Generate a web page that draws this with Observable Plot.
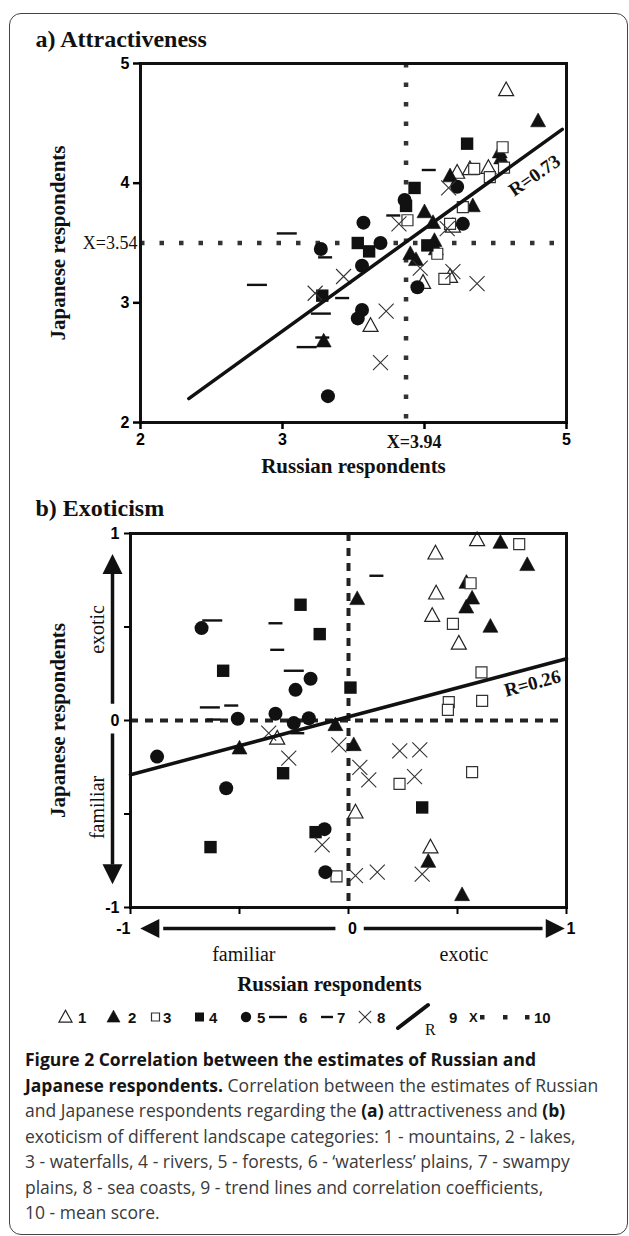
<!DOCTYPE html>
<html><head><meta charset="utf-8">
<script src="https://cdn.jsdelivr.net/npm/d3@7"></script>
<script src="https://cdn.jsdelivr.net/npm/@observablehq/plot@0.6"></script>
<style>
html,body{margin:0;padding:0;background:#fff;}
#page{position:relative;width:629px;height:1236px;overflow:hidden;background:#fff;}
#border{position:absolute;left:9px;top:13px;width:619px;height:1222px;border:1.6px solid #444;border-radius:12px;box-sizing:border-box;}
#panelA{position:absolute;left:0;top:0;}
#panelB{position:absolute;left:0;top:480px;}
#legend{position:absolute;left:0;top:1000px;}
#caption{position:absolute;left:25px;top:1047px;font-family:'Open Sans',sans-serif;font-size:17.5px;line-height:25.5px;color:#3a3a3a;white-space:nowrap;}
#caption b{color:#151515;font-weight:700;}
</style></head><body><div id="page">
<div id="border"></div>
<div id="panelA"></div>
<div id="panelB"></div>
<div id="legend"></div>
<div id="caption">
<div><b>Figure 2 Correlation between the estimates of Russian and</b></div>
<div><b>Japanese respondents.</b> Correlation between the estimates of Russian</div>
<div>and Japanese respondents regarding the <b>(a)</b> attractiveness and <b>(b)</b></div>
<div>exoticism of different landscape categories: 1 - mountains, 2 - lakes,</div>
<div>3 - waterfalls, 4 - rivers, 5 - forests, 6 - ‘waterless’ plains, 7 - swampy</div>
<div>plains, 8 - sea coasts, 9 - trend lines and correlation coefficients,</div>
<div>10 - mean score.</div>
</div>
</div>
<script>
// ---------- DATA ----------
const categories = ["mountains", "lakes", "waterfalls", "rivers", "forests", "waterless", "swampy", "coasts"];
const categoryNumbers = ["1", "2", "3", "4", "5", "6", "7", "8"];

// (a) Attractiveness: [Russian, Japanese]
const attrMountains = [[4.575,4.78],[4.23,4.09],[4.32,4.12],[4.45,4.13],[3.99,3.17],[4.18,3.22],[3.62,2.81],[4.20,3.64]];
const attrLakes = [[4.80,4.52],[4.53,4.26],[4.54,4.21],[4.18,4.06],[4.00,3.76],[4.34,3.81],[4.06,3.67],[4.07,3.52],[4.08,3.45],[3.90,3.41],[3.94,3.36],[3.29,2.68]];
const attrWaterfalls = [[4.55,4.30],[4.35,4.12],[4.56,4.13],[4.46,4.05],[4.27,3.80],[3.88,3.69],[4.18,3.66],[4.14,3.20],[4.09,3.41]];
const attrRivers = [[4.30,4.33],[3.93,3.96],[3.87,3.81],[3.53,3.50],[3.61,3.43],[4.02,3.48],[3.28,3.06]];
const attrForests = [[4.23,3.97],[3.86,3.86],[3.57,3.67],[4.27,3.66],[3.27,3.45],[3.69,3.50],[3.56,3.31],[3.95,3.13],[3.56,2.94],[3.53,2.87],[3.32,2.22]];
const attrWaterless = [[3.03,3.58],[2.82,3.15],[3.27,2.91],[3.17,2.63]];
const attrSwampy = [[3.30,3.38],[3.42,3.04],[3.28,2.71],[3.78,3.73],[4.03,4.11]];
const attrCoasts = [[3.43,3.22],[3.23,3.08],[3.82,3.66],[4.16,3.62],[4.17,3.96],[3.97,3.29],[4.20,3.26],[4.37,3.16],[3.73,2.93],[3.69,2.50]];
const attrTrendX = [2.34, 4.97];
const attrTrendY = [2.20, 4.45];
const attrMeanX = 3.87, attrMeanXLabel = "X=3.94";
const attrMeanY = 3.50, attrMeanYLabel = "X=3.54";
const attrR = {x: 4.775, y: 4.064, label: "R=0.73"};
const attrTicks = [2, 3, 4, 5];
const attrXTickLabels = ["2", "3", "", "5"];
const attrYTickLabels = ["2", "3", "4", "5"];

// (b) Exoticism: [Russian, Japanese]
const exoMountains = [[0.59,0.966],[0.399,0.895],[0.402,0.681],[0.384,0.561],[0.506,0.413],[-0.327,-0.095],[0.032,-0.49],[0.376,-0.677]];
const exoLakes = [[0.697,0.952],[0.82,0.833],[0.541,0.738],[0.567,0.654],[0.54,0.606],[0.651,0.503],[0.04,0.651],[-0.06,-0.023],[0.024,-0.13],[-0.5,-0.148],[0.366,-0.754],[0.521,-0.932]];
const exoWaterfalls = [[0.783,0.943],[0.56,0.734],[0.479,0.517],[0.61,0.257],[0.46,0.098],[0.456,0.057],[0.613,0.105],[0.234,-0.339],[0.567,-0.276],[-0.055,-0.834]];
const exoRivers = [[-0.22,0.619],[-0.132,0.462],[-0.575,0.266],[0.009,0.176],[-0.3,-0.282],[-0.151,-0.597],[-0.633,-0.677],[0.338,-0.465]];
const exoForests = [[-0.674,0.494],[-0.174,0.223],[-0.243,0.164],[-0.508,0.009],[-0.335,0.036],[-0.182,0.012],[-0.251,-0.014],[-0.878,-0.193],[-0.561,-0.362],[-0.11,-0.581],[-0.106,-0.811]];
const exoWaterless = [[-0.625,0.535],[-0.251,0.266],[-0.636,0.07]];
const exoSwampy = [[-0.335,0.52],[-0.327,0.378],[0.128,0.774],[-0.538,0.08],[-0.619,0.005],[-0.235,-0.068]];
const exoCoasts = [[-0.044,-0.13],[0.235,-0.162],[0.327,-0.157],[0.052,-0.251],[0.093,-0.317],[0.303,-0.3],[0.338,-0.822],[0.132,-0.811],[0.032,-0.829],[-0.366,-0.068],[-0.274,-0.201],[-0.121,-0.665]];
const exoTrendX = [-1, 1];
const exoTrendY = [-0.29, 0.33];
const exoMeanX = 0, exoMeanY = 0;
const exoR = {x: 0.844, y: 0.198, label: "R=0.26"};
const exoTicks = [-1, -0.5, 0, 0.5, 1];
const exoYTickLabels = ["-1", "", "0", "", "1"];
const exoAxisLabels = [{x: -1, t: "-1", a: "end"}, {x: 0, t: "0", a: "middle"}, {x: 1, t: "1", a: "start"}];
const exoSideWords = [{x: -0.48, t: "familiar"}, {x: 0.53, t: "exotic"}];
const exoSideWordsY = [{y: 0.487, t: "exotic"}, {y: -0.465, t: "familiar"}];
// arrows along the axes (data units): shaft start, head base, tip, direction
const exoVArrows = [{start: 0.09, base: 0.79, tip: 0.89, dir: 0}, {start: -0.07, base: -0.77, tip: -0.875, dir: 180}];
const exoHArrows = [{start: -0.06, base: -0.85, tip: -0.955, dir: 270}, {start: 0.07, base: 0.89, tip: 0.992, dir: 90}];

// ---------- STYLE ----------
const SERIF = "'Liberation Serif','Times New Roman',serif";
const SANS = "'Liberation Sans',Arial,sans-serif";
const rad = s => Math.sqrt(s / Math.PI);
const symTri = {draw(c, s) { const r = rad(s); c.moveTo(0, -1.05 * r); c.lineTo(r, 0.78 * r); c.lineTo(-r, 0.78 * r); c.closePath(); }};
const symSq = {draw(c, s) { const r = rad(s); c.rect(-r, -r, 2 * r, 2 * r); }};
const symCirc = {draw(c, s) { const r = rad(s); c.moveTo(r, 0); c.arc(0, 0, r, 0, 2 * Math.PI); }};
const symX = {draw(c, s) { const r = rad(s); c.moveTo(-r, -r); c.lineTo(r, r); c.moveTo(r, -r); c.lineTo(-r, r); }};
const symDash = {draw(c, s) { const r = rad(s); c.moveTo(-r, 0); c.lineTo(r, 0); }};
const symHead = {draw(c, s) { const r = rad(s); c.moveTo(0, 0); c.lineTo(r, 2 * r); c.lineTo(-r, 2 * r); c.closePath(); }};

const styles = {
  mountains: {symbol: symTri, r: 7.5, fill: "white", stroke: "#222", strokeWidth: 1.2},
  lakes: {symbol: symTri, r: 7.5, fill: "#111", stroke: "#111", strokeWidth: 0.6},
  waterfalls: {symbol: symSq, r: 5.5, fill: "white", stroke: "#333", strokeWidth: 1.2},
  rivers: {symbol: symSq, r: 6.2, fill: "#111", stroke: "none"},
  forests: {symbol: symCirc, r: 7, fill: "#111", stroke: "none"},
  waterless: {symbol: symDash, r: 10, fill: "none", stroke: "#111", strokeWidth: 2.4},
  swampy: {symbol: symDash, r: 7, fill: "none", stroke: "#111", strokeWidth: 2.4},
  coasts: {symbol: symX, r: 7.5, fill: "none", stroke: "#333", strokeWidth: 1.1}
};

function dotsFor(series) {
  return categories.map((k, i) => Plot.dot(series[i], {x: d => d[0], y: d => d[1], ...styles[k]}));
}
const serifText = (extra) => ({fontFamily: SERIF, fontWeight: "bold", fill: "#111", ...extra});

// ---------- PANEL A ----------
const attrSeries = [attrMountains, attrLakes, attrWaterfalls, attrRivers, attrForests, attrWaterless, attrSwampy, attrCoasts];
const plotA = Plot.plot({
  width: 629, height: 480,
  marginLeft: 140, marginRight: 63, marginTop: 63, marginBottom: 58,
  x: {domain: [2, 5]}, y: {domain: [2, 5]},
  style: {fontFamily: SANS, background: "transparent", overflow: "visible"},
  marks: [
    Plot.ruleX([attrMeanX], {x: d => d, stroke: "#333", strokeWidth: 4.5, strokeDasharray: "4.5,15"}),
    Plot.ruleY([attrMeanY], {y: d => d, stroke: "#333", strokeWidth: 4.5, strokeDasharray: "4.5,15"}),
    ...dotsFor(attrSeries),
    Plot.line(attrTrendX.map((x, i) => [x, attrTrendY[i]]), {x: d => d[0], y: d => d[1], stroke: "#111", strokeWidth: 3.5}),
    Plot.frame({stroke: "#111", strokeWidth: 3}),
    Plot.axisY({ticks: attrTicks, tickSize: 7, tickPadding: 4, tickFormat: d => attrYTickLabels[attrTicks.indexOf(d)], fontSize: 16, fontWeight: "bold", strokeWidth: 2.5, label: null}),
    Plot.axisX({ticks: attrTicks, tickSize: 7, tickPadding: 4, tickFormat: d => attrXTickLabels[attrTicks.indexOf(d)], fontSize: 16, fontWeight: "bold", strokeWidth: 2.5, label: null}),
    Plot.text([attrMeanY], {y: d => d, text: () => attrMeanYLabel, frameAnchor: "left", textAnchor: "end", lineAnchor: "middle", dx: -3, ...serifText({fontWeight: "normal", fontSize: 18})}),
    Plot.text([attrMeanX], {x: d => d, text: () => attrMeanXLabel, frameAnchor: "bottom", textAnchor: "middle", lineAnchor: "middle", dx: 8, dy: 20, ...serifText({fontSize: 18})}),
    Plot.text([attrR], {x: "x", y: "y", text: "label", rotate: -35, ...serifText({fontSize: 19})}),
    Plot.text(["a) Attractiveness"], {frameAnchor: "top-left", textAnchor: "start", lineAnchor: "middle", dx: -105, dy: -24, ...serifText({fontSize: 24})}),
    Plot.text(["Japanese respondents"], {frameAnchor: "left", textAnchor: "middle", lineAnchor: "middle", rotate: -90, dx: -82, ...serifText({fontSize: 21})}),
    Plot.text(["Russian respondents"], {frameAnchor: "bottom", textAnchor: "middle", lineAnchor: "middle", dy: 44, ...serifText({fontSize: 21})})
  ]
});
document.getElementById("panelA").appendChild(plotA);

// ---------- PANEL B ----------
const exoSeries = [exoMountains, exoLakes, exoWaterfalls, exoRivers, exoForests, exoWaterless, exoSwampy, exoCoasts];
const plotB = Plot.plot({
  width: 629, height: 520,
  marginLeft: 130, marginRight: 63, marginTop: 53, marginBottom: 93,
  x: {domain: [-1, 1]}, y: {domain: [-1, 1]},
  style: {fontFamily: SANS, background: "transparent", overflow: "visible"},
  marks: [
    Plot.ruleX([exoMeanX], {x: d => d, stroke: "#222", strokeWidth: 4, strokeDasharray: "8,7"}),
    Plot.ruleY([exoMeanY], {y: d => d, stroke: "#222", strokeWidth: 4, strokeDasharray: "8,7"}),
    ...dotsFor(exoSeries),
    Plot.line(exoTrendX.map((x, i) => [x, exoTrendY[i]]), {x: d => d[0], y: d => d[1], stroke: "#111", strokeWidth: 3.5}),
    Plot.frame({stroke: "#111", strokeWidth: 3}),
    Plot.axisY({ticks: exoTicks, tickSize: 6, tickPadding: 5, tickFormat: d => exoYTickLabels[exoTicks.indexOf(d)], fontSize: 16, fontWeight: "bold", strokeWidth: 2, label: null}),
    Plot.axisX({ticks: exoTicks, tickSize: 7, tickFormat: () => "", strokeWidth: 2, label: null}),
    Plot.text([exoR], {x: "x", y: "y", text: "label", rotate: -15, ...serifText({fontSize: 19})}),
    // vertical arrows (left of axis)
    Plot.link(exoVArrows, {x1: () => -1, x2: () => -1, y1: "start", y2: "base", dx: -18, stroke: "#111", strokeWidth: 3.5}),
    Plot.dot(exoVArrows, {x: () => -1, y: "tip", dx: -18, symbol: symHead, r: 10, rotate: "dir", fill: "#111", stroke: "none"}),
    Plot.text(exoSideWordsY, {x: () => -1, y: "y", text: "t", dx: -33, rotate: -90, textAnchor: "middle", ...serifText({fontWeight: "normal", fontSize: 20})}),
    // horizontal arrows (below axis)
    Plot.link(exoHArrows, {x1: "start", x2: "base", y1: () => -1, y2: () => -1, dy: 21, stroke: "#111", strokeWidth: 3.5}),
    Plot.dot(exoHArrows, {x: "tip", y: () => -1, dy: 21, symbol: symHead, r: 9.5, rotate: "dir", fill: "#111", stroke: "none"}),
    Plot.text(exoAxisLabels.filter(d => d.a === "end"), {x: "x", y: () => -1, text: "t", dy: 21, textAnchor: "end", fontSize: 16, fontWeight: "bold"}),
    Plot.text(exoAxisLabels.filter(d => d.a === "middle"), {x: "x", y: () => -1, text: "t", dy: 21, dx: 4, textAnchor: "middle", fontSize: 16, fontWeight: "bold"}),
    Plot.text(exoAxisLabels.filter(d => d.a === "start"), {x: "x", y: () => -1, text: "t", dy: 21, textAnchor: "start", fontSize: 16, fontWeight: "bold"}),
    Plot.text(exoSideWords, {x: "x", y: () => -1, text: "t", dy: 47, ...serifText({fontWeight: "normal", fontSize: 20})}),
    Plot.text(["Russian respondents"], {frameAnchor: "bottom", textAnchor: "middle", lineAnchor: "middle", dx: -19, dy: 77, ...serifText({fontSize: 21})}),
    Plot.text(["b) Exoticism"], {frameAnchor: "top-left", textAnchor: "start", lineAnchor: "middle", dx: -95, dy: -25, ...serifText({fontSize: 24})}),
    Plot.text(["Japanese respondents"], {frameAnchor: "left", textAnchor: "middle", lineAnchor: "middle", rotate: -90, dx: -72, ...serifText({fontSize: 21})})
  ]
});
document.getElementById("panelB").appendChild(plotB);

// ---------- LEGEND ----------
const legendPos = [
  {cx: 65.5, r: 6.5, tx: 78}, {cx: 113.5, r: 6.5, tx: 128}, {cx: 155.5, r: 4, tx: 163},
  {cx: 199.5, r: 4.5, tx: 209}, {cx: 246, r: 5.2, tx: 257}, {cx: 278, r: 9, tx: 299},
  {cx: 327, r: 6, tx: 337}, {cx: 365, r: 6.2, tx: 377}
];
const lg = d3.create("svg").attr("width", 629).attr("height", 46).style("overflow", "visible");
const LY = 17;
categories.forEach((k, i) => {
  const st = styles[k], pos = legendPos[i];
  const p = d3.path(); st.symbol.draw(p, Math.PI * pos.r * pos.r);
  lg.append("path").attr("d", p.toString()).attr("transform", `translate(${pos.cx},${LY})`)
    .attr("fill", st.fill).attr("stroke", st.stroke).attr("stroke-width", st.strokeWidth || 0);
  lg.append("text").attr("x", pos.tx).attr("y", LY + 5.5).text(categoryNumbers[i])
    .attr("font-family", SANS).attr("font-weight", "bold").attr("font-size", 15).attr("fill", "#111");
});
lg.append("line").attr("x1", 398).attr("y1", 28).attr("x2", 428).attr("y2", 5).attr("stroke", "#111").attr("stroke-width", 4).attr("stroke-linecap", "round");
lg.append("text").attr("x", 425).attr("y", 35).text("R").attr("font-family", SERIF).attr("font-size", 16).attr("fill", "#111");
lg.append("text").attr("x", 449).attr("y", LY + 5.5).text("9").attr("font-family", SANS).attr("font-weight", "bold").attr("font-size", 15).attr("fill", "#111");
lg.append("text").attr("x", 469).attr("y", LY + 5).text("X").attr("font-family", SANS).attr("font-weight", "bold").attr("font-size", 13).attr("fill", "#111");
[480, 503, 525].forEach(x => lg.append("rect").attr("x", x).attr("y", LY - 2).attr("width", 4.5).attr("height", 4.5).attr("fill", "#222"));
lg.append("text").attr("x", 534).attr("y", LY + 5.5).text("10").attr("font-family", SANS).attr("font-weight", "bold").attr("font-size", 15).attr("fill", "#111");
document.getElementById("legend").appendChild(lg.node());
</script>
</body></html>
